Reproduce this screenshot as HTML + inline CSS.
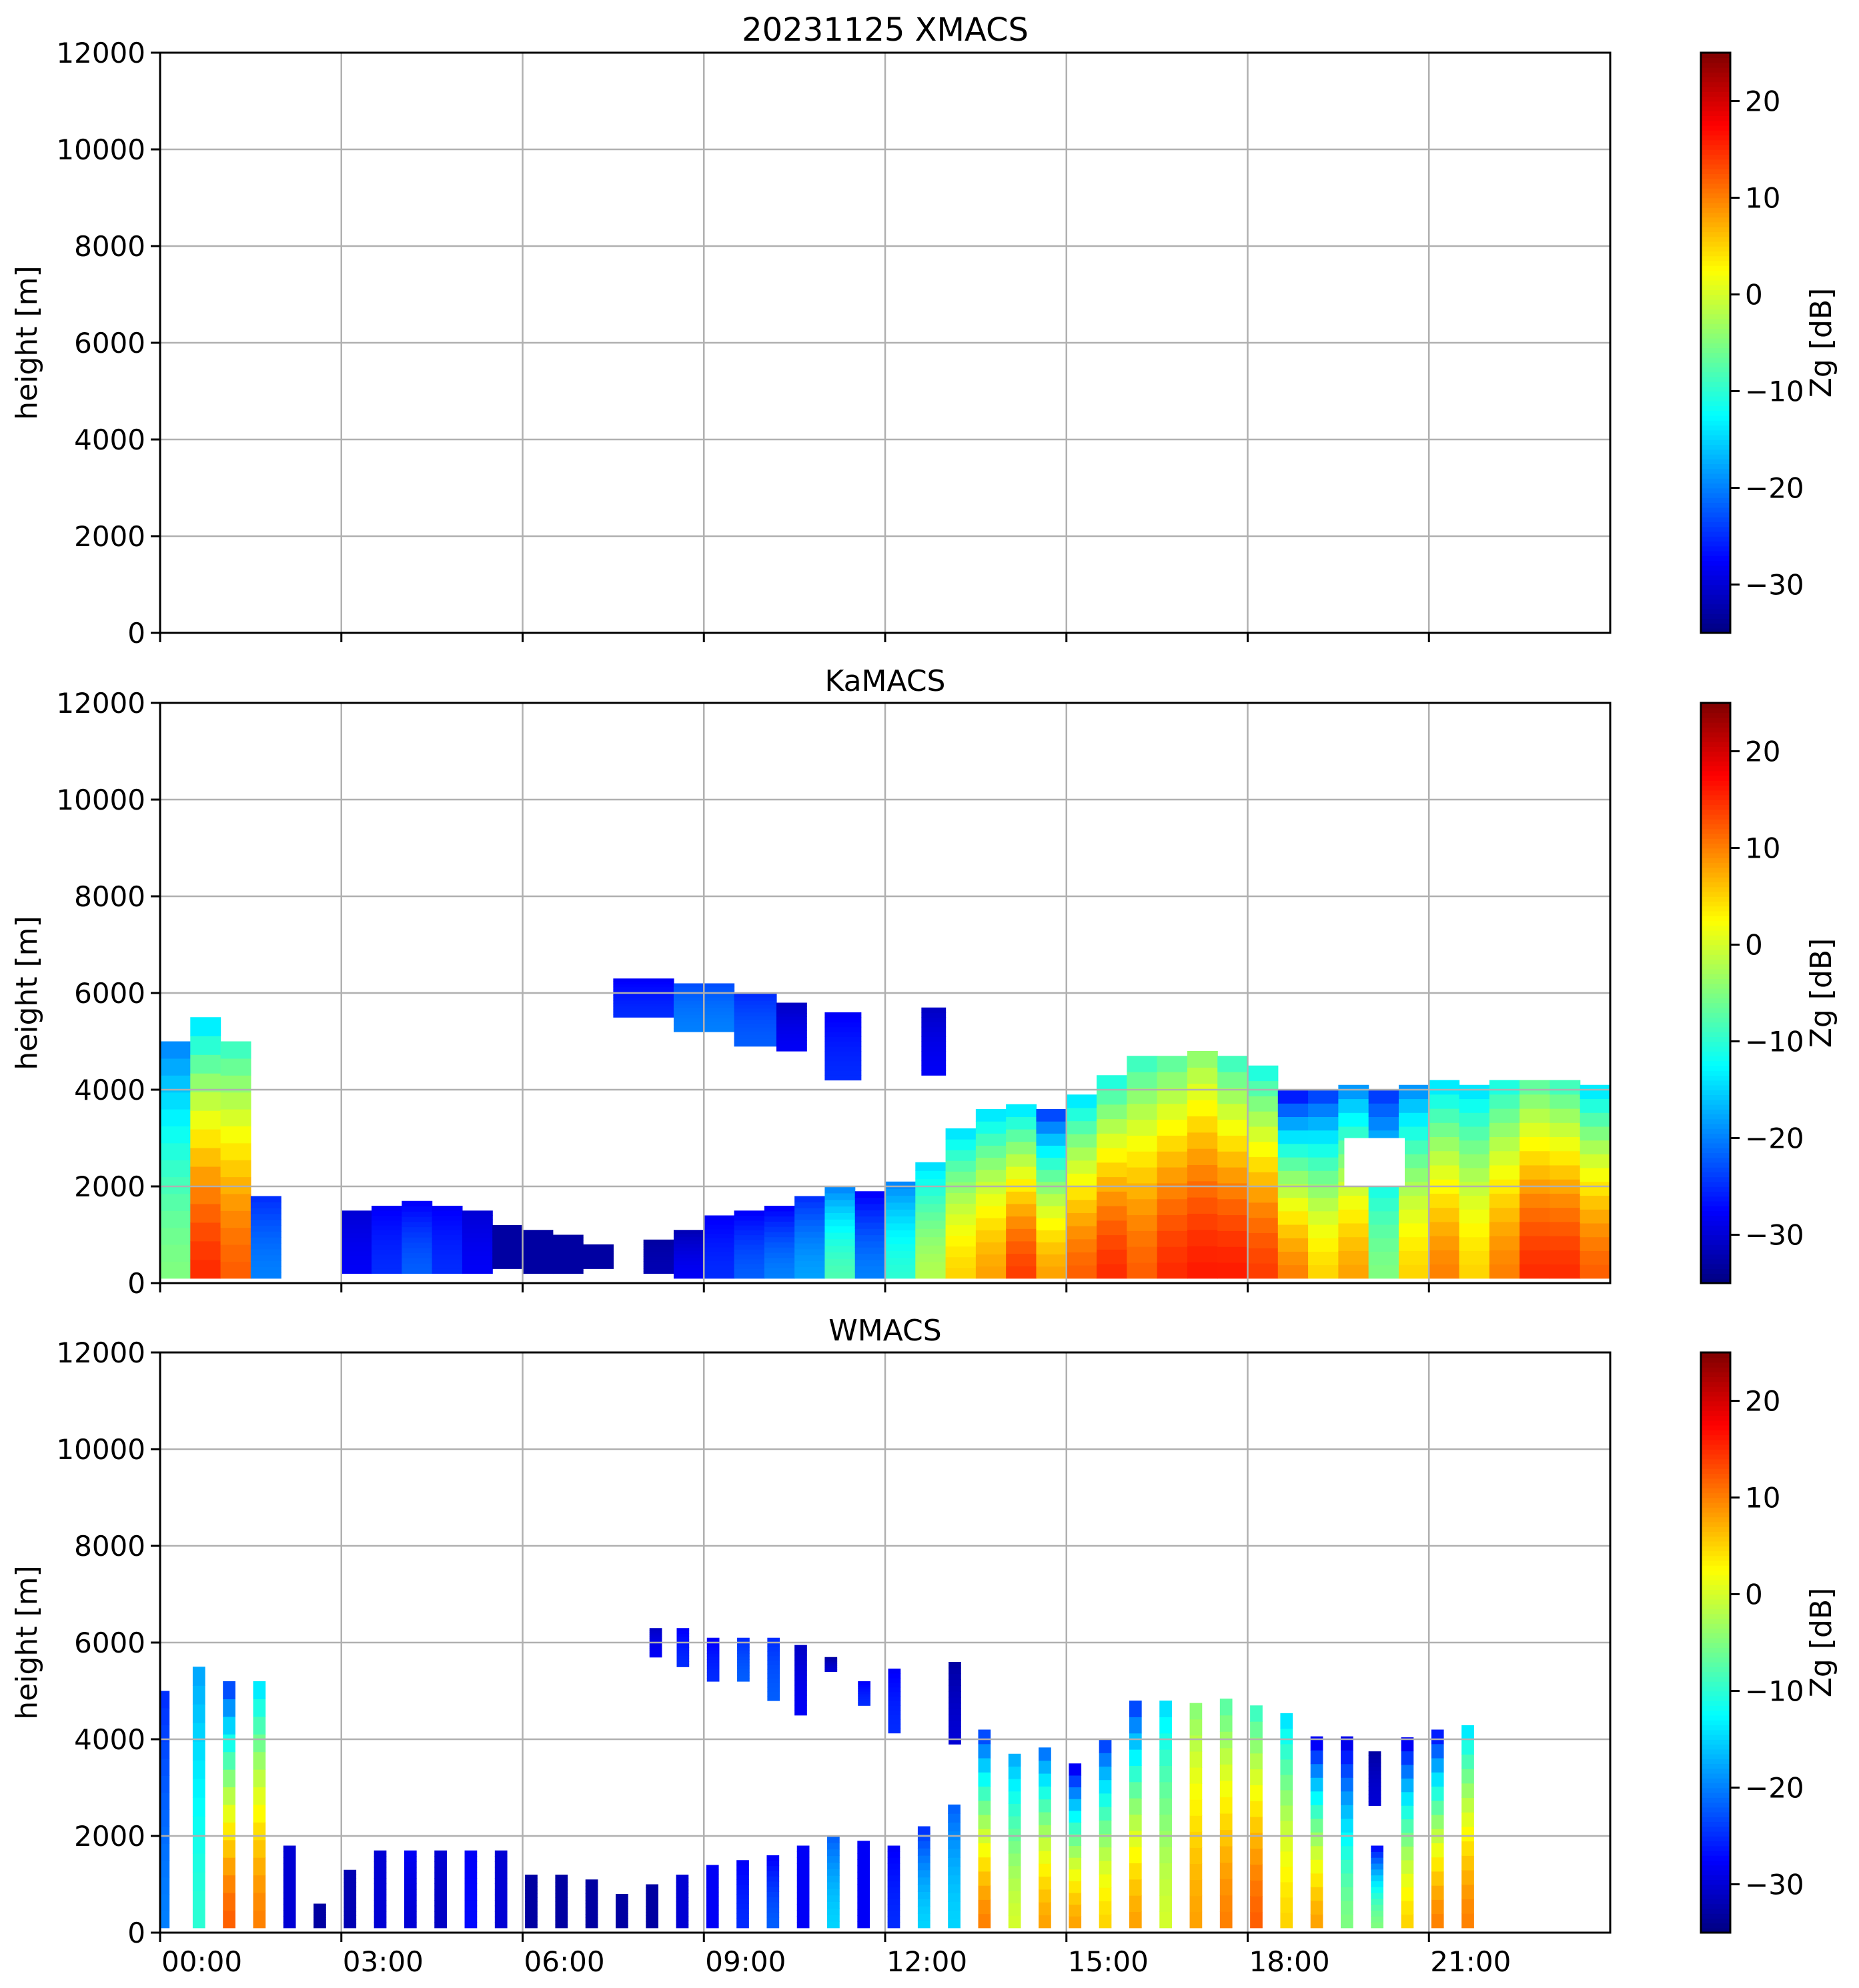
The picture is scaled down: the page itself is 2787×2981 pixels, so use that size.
<!DOCTYPE html>
<html><head><meta charset="utf-8"><style>
html,body{margin:0;padding:0;background:#fff}
svg{display:block}
text{font-family:"DejaVu Sans","Liberation Sans",sans-serif;fill:#000}
</style></head><body>
<svg id="fig" width="2787" height="2981" viewBox="0 0 2787 2981" xmlns="http://www.w3.org/2000/svg"></svg>
<script>
// ---- data ----
const timeTicks = [0,3,6,9,12,15,18,21];
const timeTickLabels = ["00:00","03:00","06:00","09:00","12:00","15:00","18:00","21:00"];
const heightTicks = [0,2000,4000,6000,8000,10000,12000];
const cbarTicks = [-30,-20,-10,0,10,20];
const panelTitles = ["20231125 XMACS","KaMACS","WMACS"];
// KaMACS main columns (0.5 h bins)
const kaStart = [0,0.5,1,1.5,2,2.5,3,3.5,4,4.5,5,5.5,6,6.5,7,7.5,8,8.5,9,9.5,10,10.5,11,11.5,12,12.5,13,13.5,14,14.5,15,15.5,16,16.5,17,17.5,18,18.5,19,19.5,20,20.5,21,21.5,22,22.5,23,23.5];
const kaBottom = [100,100,100,100,0,0,200,200,200,200,200,300,200,200,300,0,200,100,100,100,100,100,100,100,100,100,100,100,100,100,100,100,100,100,100,100,100,100,100,100,100,100,100,100,100,100,100,100];
const kaTop = [5000,5500,5000,1800,0,0,1500,1600,1700,1600,1500,1200,1100,1000,800,0,900,1100,1400,1500,1600,1800,2000,1900,2100,2500,3200,3600,3700,3600,3900,4300,4700,4700,4800,4700,4500,4000,4000,4100,4000,4100,4200,4100,4200,4200,4200,4100];
const kaLow = [-5,15,12,-20,0,0,-28,-25,-22,-25,-28,-33,-33,-33,-33,0,-32,-28,-25,-22,-20,-18,-8,-20,-10,-2,5,8,14,8,12,15,12,15,16,16,14,10,5,8,-5,5,10,5,10,15,15,12];
const kaHigh = [-20,-15,-10,-25,0,0,-30,-28,-28,-28,-30,-33,-33,-33,-33,0,-33,-32,-28,-28,-28,-25,-20,-28,-20,-15,-15,-15,-15,-25,-15,-12,-10,-8,-5,-10,-12,-28,-25,-20,-25,-20,-15,-15,-12,-8,-10,-15];
// KaMACS upper cloud patches
const kaUpStart = [7.5,8.5,9.5,10.2,11.0,12.6];
const kaUpEnd = [8.5,9.5,10.2,10.7,11.6,13.0];
const kaUpBottom = [5500,5200,4900,4800,4200,4300];
const kaUpTop = [6300,6200,6000,5800,5600,5700];
const kaUpValue = [-25,-20,-22,-28,-25,-28];
// KaMACS clear gap
const kaGapStart = [19.6];
const kaGapEnd = [20.6];
const kaGapBottom = [2000];
const kaGapTop = [3000];
// WMACS sampled bars
const wStart = [0,0.5,1,1.5,2,2.5,3,3.5,4,4.5,5,5.5,6,6.5,7,7.5,8,8.5,9,9.5,10,10.5,11,11.5,12,12.5,13,13.5,14,14.5,15,15.5,16,16.5,17,17.5,18,18.5,19,19.5,20,20.5,21,21.5];
const wTop = [5000,5500,5200,5200,1800,600,1300,1700,1700,1700,1700,1700,1200,1200,1100,800,1000,1200,1400,1500,1600,1800,2000,1900,1800,2200,2650,4200,3700,3830,3500,4000,4800,4800,4750,4840,4700,4540,4060,4060,1800,4040,4200,4290];
const wLow = [-20,-10,12,10,-30,-33,-32,-30,-30,-31,-27,-30,-33,-33,-33,-33,-33,-30,-28,-25,-22,-28,-15,-28,-25,-15,-15,10,0,8,8,5,8,0,8,10,12,5,8,-5,-5,5,10,10];
const wHigh = [-25,-18,-25,-15,-30,-33,-32,-30,-28,-30,-28,-30,-33,-33,-33,-33,-33,-30,-28,-28,-28,-28,-22,-28,-28,-25,-22,-25,-18,-22,-30,-25,-25,-15,-5,-8,-10,-15,-30,-30,-28,-30,-28,-15];
// WMACS upper patches
const wUpStart = [8.1,8.55,9.05,9.55,10.05,10.5,11.0,11.55,12.05,13.05,20.0];
const wUpBottom = [5700,5500,5200,5200,4800,4500,5400,4700,4130,3900,2630];
const wUpTop = [6300,6300,6100,6100,6100,5950,5700,5200,5460,5600,3750];
const wUpValue = [-28,-25,-25,-22,-22,-28,-30,-25,-25,-30,-30];

// ---- layout ----
const NS="http://www.w3.org/2000/svg";
const svg=document.getElementById('fig');
const X0=240,X1=2414,panelTops=[79,1054,2028],PH=870;
const CB0=2550,CB1=2594,ZMIN=-35,ZMAX=25;
function xs(h){return X0+(X1-X0)*h/24;}
function ys(p,m){return panelTops[p]+PH-PH*m/12000;}
function mk(tag,attrs,parent){const e=document.createElementNS(NS,tag);for(const k in attrs)e.setAttribute(k,attrs[k]);(parent||svg).appendChild(e);return e;}
function jet(v){let t=(v-ZMIN)/(ZMAX-ZMIN);t=Math.max(0,Math.min(1,t));
 const r=Math.max(0,Math.min(1,1.5-Math.abs(4*t-3))),g=Math.max(0,Math.min(1,1.5-Math.abs(4*t-2))),b=Math.max(0,Math.min(1,1.5-Math.abs(4*t-1)));
 return `rgb(${Math.round(r*255)},${Math.round(g*255)},${Math.round(b*255)})`;}
function column(g,p,t0,t1,bot,top,lo,hi,name){
 if(top<=bot)return;const n=14;
 for(let k=0;k<n;k++){const h0=bot+(top-bot)*k/n,h1=bot+(top-bot)*(k+1)/n;const f=(k+0.5)/n;const v=lo+(hi-lo)*Math.pow(f,1.6);
  const r=mk('rect',{x:xs(t0),y:ys(p,h1),width:xs(t1)-xs(t0)+0.6,height:ys(p,h0)-ys(p,h1)+0.6,fill:jet(v)},g);
  
  }
}
panelTops.forEach((top,p)=>{
 const g=mk('g',{});
 
 
 const data=mk('g',{},g);
 
 
 if(p===1){
  kaStart.forEach((t,i)=>column(data,1,t,t+0.5,kaBottom[i],kaTop[i],kaLow[i],kaHigh[i],'ka-column'));
  kaUpStart.forEach((t,i)=>column(data,1,t,kaUpEnd[i],kaUpBottom[i],kaUpTop[i],kaUpValue[i],kaUpValue[i]-3,'ka-upper-cloud'));
  kaGapStart.forEach((t,i)=>{const r=mk('rect',{x:xs(t),y:ys(1,kaGapTop[i]),width:xs(kaGapEnd[i])-xs(t),height:ys(1,kaGapBottom[i])-ys(1,kaGapTop[i]),fill:'#fff'},data);
   
   });
 }
 if(p===2){
  wStart.forEach((t,i)=>{const a=t+(i===0?0:0.04);column(data,2,a,a+(i===0?0.15:0.2),100,wTop[i],wLow[i],wHigh[i],'w-bar');});
  wUpStart.forEach((t,i)=>column(data,2,t,t+0.2,wUpBottom[i],wUpTop[i],wUpValue[i],wUpValue[i]-3,'w-upper-cloud'));
 }
 // grid
 timeTicks.forEach(h=>{if(h===0)return;const l=mk('line',{x1:xs(h),x2:xs(h),y1:top,y2:top+PH,stroke:'#b0b0b0','stroke-width':2.5},g);
  
  });
 heightTicks.forEach(m=>{if(m===0||m===12000)return;const l=mk('line',{x1:X0,x2:X1,y1:ys(p,m),y2:ys(p,m),stroke:'#b0b0b0','stroke-width':2.5},g);
  
  });
 const fr=mk('rect',{x:X0,y:top,width:X1-X0,height:PH,fill:'none',stroke:'#000','stroke-width':3},g);
 
 
 heightTicks.forEach(m=>{mk('line',{x1:X0-14,x2:X0,y1:ys(p,m),y2:ys(p,m),stroke:'#000','stroke-width':3},g);
  const t=mk('text',{x:X0-22,y:ys(p,m)+15,'font-size':42,'text-anchor':'end'},g);t.textContent=m;
  
  });
 timeTicks.forEach((h,i)=>{mk('line',{x1:xs(h),x2:xs(h),y1:top+PH,y2:top+PH+14,stroke:'#000','stroke-width':3},g);
  if(p===2){const t=mk('text',{x:xs(h)+2,y:top+PH+58,'font-size':42},g);t.textContent=timeTickLabels[i];
   
   }});
 const yl=mk('text',{x:55,y:top+PH/2,'font-size':44,'text-anchor':'middle',transform:`rotate(-90 55 ${top+PH/2})`},g);yl.textContent='height [m]';
 
 
 const tt=mk('text',{x:(X0+X1)/2,y:top-18,'font-size':p===0?48:44,'text-anchor':'middle'},g);tt.textContent=panelTitles[p];
 
 
 // colorbar
 const cb=mk('g',{},g);
 
 
 const steps=120;
 for(let k=0;k<steps;k++){const v=ZMIN+(ZMAX-ZMIN)*(k+0.5)/steps;const y=top+PH-PH*(k+1)/steps;
  mk('rect',{x:CB0,y:y,width:CB1-CB0,height:PH/steps+0.8,fill:jet(v)},cb);}
 mk('rect',{x:CB0,y:top,width:CB1-CB0,height:PH,fill:'none',stroke:'#000','stroke-width':3},cb);
 cbarTicks.forEach(v=>{const y=top+PH-PH*(v-ZMIN)/(ZMAX-ZMIN);mk('line',{x1:CB1,x2:CB1+14,y1:y,y2:y,stroke:'#000','stroke-width':3},cb);
  const t=mk('text',{x:CB1+22,y:y+15,'font-size':42},cb);t.textContent=(v<0?'\u2212':'')+Math.abs(v);
  
  });
 const cl=mk('text',{x:2745,y:top+PH/2,'font-size':44,'text-anchor':'middle',transform:`rotate(-90 2745 ${top+PH/2})`},cb);cl.textContent='Zg [dB]';
 
 
});
</script>
</body></html>
